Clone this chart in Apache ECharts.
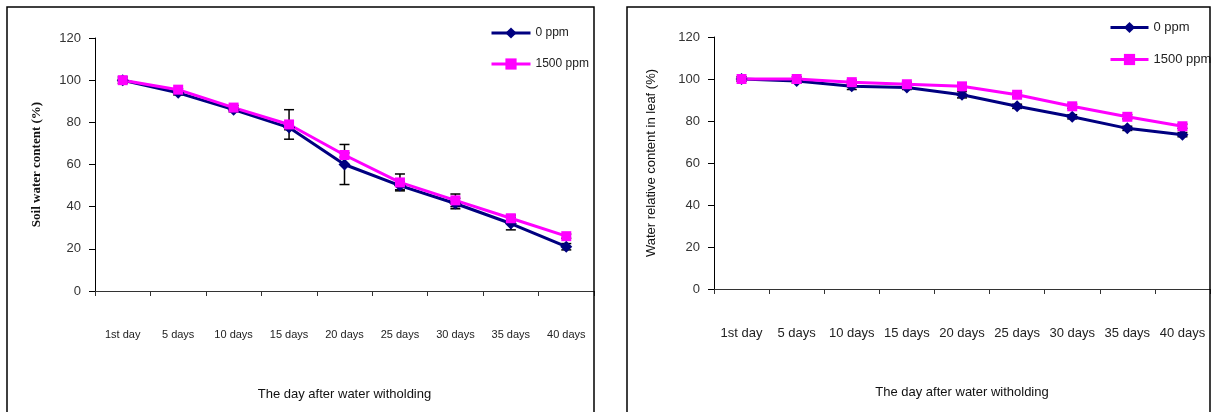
<!DOCTYPE html>
<html>
<head>
<meta charset="utf-8">
<script src="https://cdn.jsdelivr.net/npm/echarts@6/dist/echarts.min.js"></script>
<style>
  html, body { margin: 0; padding: 0; background: #fff; }
  #chart { width: 1213px; height: 412px; }
</style>
</head>
<body>
<div id="chart"></div>
<script>
// data
const days = ['1st day', '5 days', '10 days', '15 days', '20 days', '25 days', '30 days', '35 days', '40 days'];
const yTicks = [0, 20, 40, 60, 80, 100, 120];

const soil0 = [100, 94, 86, 77.5, 60, 50, 41.5, 32, 21];
const soil1500 = [100, 95.5, 87, 79, 64.5, 51.5, 43, 34.5, 26];
const soil0Err = [1.5, 1, 1, 1, 9.5, 2, 2.5, 3, 1.5];
const soil1500Err = [0.5, 0.5, 1, 7, 1, 4, 3, 1.5, 1];

const leaf0 = [100, 99, 96.5, 96, 92.5, 87, 82, 76.5, 73.5];
const leaf1500 = [100, 100, 98.5, 97.5, 96.5, 92.5, 87, 82, 77.5];
const leaf0Err = [1, 1, 1.5, 1, 1.5, 1, 1, 1, 1];
const leaf1500Err = [1, 1, 1, 1, 1.5, 1, 1, 1, 1];

const font = '"Liberation Sans", Arial, sans-serif';
const navy = '#000080';
const pink = '#ff00ff';

var chart = echarts.init(document.getElementById('chart'));

function xAxisOpt(gridIndex, fontSize) {
    return {
        type: 'category', gridIndex: gridIndex, data: days, boundaryGap: true,
        name: 'The day after water witholding', nameLocation: 'middle', nameGap: 97,
        nameTextStyle: { color: '#111', fontSize: 13, fontFamily: font },
        axisLine: { lineStyle: { color: '#333', width: 1 } },
        axisTick: { show: true, length: 5, inside: false, lineStyle: { color: '#333' } },
        axisLabel: { color: '#222', fontSize: fontSize, fontFamily: font, margin: 38, interval: 0 },
        splitLine: { show: false }
    };
}

function yAxisOpt(gridIndex, name, nameStyle, nameGap) {
    return {
        type: 'value', gridIndex: gridIndex, min: yTicks[0], max: yTicks[yTicks.length - 1], interval: 20,
        name: name, nameLocation: 'middle', nameGap: nameGap, nameRotate: 90,
        nameTextStyle: nameStyle,
        axisLine: { show: true, lineStyle: { color: '#000', width: 1 } },
        axisTick: { show: true, length: 6, lineStyle: { color: '#000' } },
        axisLabel: { color: '#333', fontSize: 13, fontFamily: font, margin: 14 },
        splitLine: { show: false }
    };
}

function lineSeries(name, data, idx, color, symbol, size) {
    return {
        name: name, type: 'line', data: data, xAxisIndex: idx, yAxisIndex: idx,
        symbol: symbol, symbolSize: size, showSymbol: true,
        lineStyle: { color: color, width: 3 },
        itemStyle: { color: color },
        emphasis: { disabled: true }, animation: false
    };
}

// error bars drawn with the axes' own coordinates
function errSeries(values, errs, idx) {
    return {
        type: 'custom', xAxisIndex: idx, yAxisIndex: idx, animation: false, silent: true,
        data: values.map(function (v, i) { return [i, v - errs[i], v + errs[i]]; }),
        renderItem: function (params, api) {
            var lo = api.coord([api.value(0), api.value(1)]);
            var hi = api.coord([api.value(0), api.value(2)]);
            var w = 5;
            var st = { stroke: '#000', lineWidth: 1.5 };
            return {
                type: 'group',
                children: [
                    { type: 'line', shape: { x1: hi[0], y1: hi[1], x2: lo[0], y2: lo[1] }, style: st },
                    { type: 'line', shape: { x1: hi[0] - w, y1: hi[1], x2: hi[0] + w, y2: hi[1] }, style: st },
                    { type: 'line', shape: { x1: lo[0] - w, y1: lo[1], x2: lo[0] + w, y2: lo[1] }, style: st }
                ]
            };
        }
    };
}

chart.setOption({
    backgroundColor: '#fff',
    animation: false,
    grid: [
        { left: 95, right: 1213 - 594, top: 38, bottom: 412 - 291 },
        { left: 714, right: 3, top: 37, bottom: 412 - 289 }
    ],
    xAxis: [xAxisOpt(0, 11), xAxisOpt(1, 13)],
    yAxis: [
        yAxisOpt(0, 'Soil water content (%)',
            { color: '#111', fontSize: 13, fontWeight: 'bold', fontFamily: '"Liberation Serif", "Times New Roman", serif' }, 52),
        yAxisOpt(1, 'Water relative content in leaf (%)',
            { color: '#111', fontSize: 13, fontFamily: font }, 56)
    ],
    legend: [
        {
            orient: 'vertical', left: 490, top: 27, padding: 0, itemWidth: 39, itemHeight: 14, itemGap: 19,
            lineStyle: { width: 3 },
            textStyle: { fontSize: 12, color: '#222', fontFamily: font },
            data: ['0 ppm', '1500 ppm']
        },
        {
            orient: 'vertical', left: 1109, top: 21, padding: 0, itemWidth: 38, itemHeight: 14, itemGap: 19,
            lineStyle: { width: 3 },
            textStyle: { fontSize: 13, color: '#222', fontFamily: font },
            data: ['0 ppm', '1500 ppm']
        }
    ],
    graphic: [
        { type: 'rect', z: 100, shape: { x: 595, y: 0, width: 31, height: 412 }, style: { fill: '#fff' } },
        { type: 'rect', z: 101, shape: { x: 7, y: 7, width: 587, height: 420 }, style: { fill: 'none', stroke: '#000', lineWidth: 1.5 } },
        { type: 'rect', z: 101, shape: { x: 627, y: 7, width: 583, height: 420 }, style: { fill: 'none', stroke: '#000', lineWidth: 1.5 } }
    ],
    series: [
        errSeries(soil0, soil0Err, 0),
        errSeries(soil1500, soil1500Err, 0),
        lineSeries('0 ppm', soil0, 0, navy, 'diamond', 12),
        lineSeries('1500 ppm', soil1500, 0, pink, 'rect', 10),
        errSeries(leaf0, leaf0Err, 1),
        errSeries(leaf1500, leaf1500Err, 1),
        lineSeries('0 ppm', leaf0, 1, navy, 'diamond', 12),
        lineSeries('1500 ppm', leaf1500, 1, pink, 'rect', 10)
    ]
});
</script>
</body>
</html>
